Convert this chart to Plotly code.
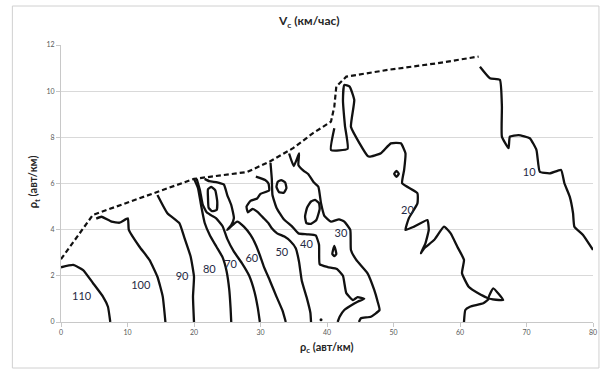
import plotly.graph_objects as go

# ---------------- data ----------------
x_ticks = [0, 10, 20, 30, 40, 50, 60, 70, 80]
y_ticks = [0, 2, 4, 6, 8, 10, 12]

# dashed boundary of the observed region
bound_x = [0, 4.8, 20.0, 28.0, 31.4, 34.9, 37.9, 40.6, 41.1, 41.4, 42.9, 49.1, 56.6, 62.8]
bound_y = [2.72, 4.64, 6.2, 6.5, 6.95, 7.53, 8.18, 8.68, 9.33, 10.2, 10.63, 10.92, 11.21, 11.5]

# contour lines (V_c levels)
c110_x = [0, 1.84, 3.33, 4.82, 6.31, 7.06, 7.41]
c110_y = [2.37, 2.47, 2.25, 1.68, 1.10, 0.66, 0]

c100_x = [5.3, 6.1, 7.6, 8.8, 10.05, 10.2, 11.8, 13.3, 14.5, 15.3, 15.7]
c100_y = [4.48, 4.56, 4.35, 4.3, 4.49, 3.99, 3.26, 2.69, 1.96, 1.10, 0]

c90_x = [14.5, 16.0, 17.8, 18.5, 19.5, 20.0, 19.85, 20.0]
c90_y = [5.5, 4.71, 4.28, 3.70, 2.83, 1.96, 1.10, 0]

c80_x = [20.0, 20.6, 21.1, 21.6, 22.4, 23.4, 24.3, 24.9, 25.3, 25.5, 25.6]
c80_y = [6.2, 5.8, 5.0, 4.3, 3.75, 3.25, 2.8, 2.2, 1.4, 0.6, 0]

c70_x = [20.4, 20.9, 21.3, 21.9, 22.6, 23.3, 24.3, 25.0, 26.0, 27.2, 28.3, 29.1, 29.6, 29.9]
c70_y = [6.2, 5.7, 5.1, 4.75, 4.62, 4.5, 4.15, 3.6, 3.05, 2.55, 2.0, 1.3, 0.6, 0]

c70_loop_x = [22.1, 22.6, 23.2, 23.5, 23.4, 22.7, 22.2, 22.1, 22.1]
c70_loop_y = [5.75, 5.85, 5.7, 5.2, 4.85, 4.8, 4.95, 5.4, 5.75]

c60_x = [21.6, 22.3, 23.5, 24.5, 25.0, 25.6, 26.0, 25.6, 25.0, 25.5, 26.5, 27.5, 28.5, 29.3,
         29.9, 30.5, 31.4, 32.4, 33.3, 33.8]
c60_y = [6.2, 6.1, 6.05, 5.95, 5.5, 5.07, 4.5, 4.2, 3.99, 4.12, 4.35, 4.13, 3.77, 3.34,
         2.9, 2.4, 1.8, 1.1, 0.5, 0]

c50_x = [29.3, 30.7, 31.2, 31.3, 30.0, 29.5, 28.5, 27.9, 28.1, 28.8, 29.5, 30.5, 31.2, 31.7,
         32.5, 33.6, 34.5, 35.3, 35.8, 36.2, 37.0, 37.5, 37.6]
c50_y = [6.3, 6.15, 6.0, 5.7, 5.55, 5.35, 5.25, 5.0, 4.75, 4.9, 4.78, 4.49, 4.28, 4.06,
         3.84, 3.7, 3.5, 3.2, 2.6, 1.8, 1.0, 0.4, 0]

c40_x = [31.5, 31.7, 31.8, 32.4, 33.5, 34.7, 35.7, 37.0, 38.3, 38.8, 38.9, 40.1, 41.5, 42.4,
         42.9, 43.9, 44.6, 45.6, 44.6, 44.1, 42.6, 41.9, 41.6]
c40_y = [6.9, 6.2, 5.5, 4.95, 4.45, 4.15, 3.84, 3.8, 3.75, 3.35, 2.5, 2.38, 2.3, 2.0,
         1.25, 0.95, 1.08, 1.0, 0.88, 0.8, 0.52, 0.23, 0]

c40_loop_x = [32.4, 32.6, 33.1, 33.7, 33.9, 33.5, 32.8, 32.4]
c40_loop_y = [5.85, 6.08, 6.15, 6.05, 5.8, 5.6, 5.62, 5.85]

c30_x = [34.3, 35.0, 35.8, 35.7, 36.5, 37.2, 38.0, 38.7, 39.1, 39.6, 40.6, 41.8, 42.6, 43.5,
         43.6, 44.4, 46.1, 47.1, 47.6, 47.9, 46.6, 45.1, 44.8]
c30_y = [7.3, 6.75, 7.3, 6.8, 6.55, 6.4, 6.05, 5.86, 5.14, 4.6, 4.35, 4.45, 4.35, 3.99,
         3.12, 2.69, 2.11, 1.39, 0.9, 0.52, 0.23, 0.16, 0]

c30_oval_x = [38.2, 38.8, 38.9, 38.4, 37.6, 36.9, 36.7, 37.0, 37.6, 38.2]
c30_oval_y = [5.29, 5.15, 4.9, 4.42, 4.25, 4.28, 4.57, 4.95, 5.22, 5.29]

c30_drop_x = [41.1, 41.4, 41.1, 40.8, 41.1]
c30_drop_y = [3.3, 2.95, 2.85, 2.95, 3.3]

c20_x = [41.1, 40.6, 43.1, 42.7, 42.4, 42.6, 43.4, 44.1, 43.6, 44.9, 46.1, 46.4, 48.1, 49.6,
         51.1, 51.8, 51.6, 51.3, 53.6, 53.6, 52.3, 51.8, 53.1, 55.1, 55.3, 54.8, 54.1, 54.6,
         56.1, 57.6, 58.6, 59.6, 60.6, 60.3, 61.3, 63.0, 64.3, 63.5, 61.5, 60.8, 60.6]
c20_y = [8.39, 7.45, 7.5, 8.5, 9.62, 10.27, 10.2, 9.62, 8.46, 7.74, 7.2, 7.16, 7.31, 7.74,
         7.74, 7.31, 6.59, 6.01, 5.58, 5.14, 4.49, 3.99, 4.13, 4.42, 3.99, 3.41, 2.98, 3.19,
         3.55, 4.13, 3.84, 3.26, 2.69, 2.11, 1.53, 1.2, 1.0, 0.81, 0.66, 0.52, 0]

c20_ring_x = [50.1, 50.45, 50.8, 50.45, 50.1]
c20_ring_y = [6.42, 6.55, 6.42, 6.29, 6.42]

c20_tri_x = [65.0, 66.5, 64.3, 65.0]
c20_tri_y = [1.46, 0.95, 1.03, 1.46]

c10_x = [63.0, 64.5, 66.0, 66.3, 66.3, 67.3, 67.5, 68.8, 70.5, 71.5, 72.0, 73.5, 75.2, 75.7,
         76.5, 77.0, 77.2, 78.5, 80.0]
c10_y = [11.06, 10.56, 10.49, 9.33, 8.03, 7.53, 8.03, 8.1, 7.96, 7.45, 6.51, 6.44, 6.59, 6.01,
         5.43, 4.71, 4.13, 3.77, 3.12]

dot_x = [39.1]
dot_y = [0.1]

# contour labels
label_text = ["110", "100", "90", "80", "70", "60", "50", "40", "30", "20", "10"]
label_x = [3.1, 12.0, 18.2, 22.3, 25.5, 28.7, 33.2, 36.9, 42.1, 52.1, 70.4]
label_y = [1.07, 1.56, 1.96, 2.25, 2.47, 2.72, 2.98, 3.31, 3.81, 4.81, 6.44]

title_text = "<b>V<sub>c</sub> (км/час)</b>"
xtitle_text = "<b>ρ<sub>c</sub> (авт/км)</b>"
ytitle_text = "<b>ρ<sub>t</sub> (авт/км)</b>"

# ---------------- figure ----------------
fig = go.Figure()

lines = [
    (c110_x, c110_y), (c100_x, c100_y), (c90_x, c90_y), (c80_x, c80_y),
    (c70_x, c70_y), (c70_loop_x, c70_loop_y), (c60_x, c60_y), (c50_x, c50_y),
    (c40_x, c40_y), (c40_loop_x, c40_loop_y), (c30_x, c30_y), (c30_oval_x, c30_oval_y),
    (c30_drop_x, c30_drop_y), (c20_x, c20_y), (c20_ring_x, c20_ring_y),
    (c20_tri_x, c20_tri_y), (c10_x, c10_y),
]
for xs, ys in lines:
    fig.add_trace(go.Scatter(x=xs, y=ys, mode="lines",
                             line=dict(color="#111111", width=2.3, shape="spline", smoothing=0.4),
                             hoverinfo="skip", showlegend=False))

fig.add_trace(go.Scatter(x=bound_x, y=bound_y, mode="lines",
                         line=dict(color="#111111", width=2.2, dash="5px,3px"),
                         hoverinfo="skip", showlegend=False))

fig.add_trace(go.Scatter(x=dot_x, y=dot_y, mode="markers",
                         marker=dict(color="#111111", size=3),
                         hoverinfo="skip", showlegend=False))

fig.add_trace(go.Scatter(x=label_x, y=label_y, mode="text", text=label_text,
                         textfont=dict(family="Lato, Open Sans, sans-serif", size=11, color="#1f2a44"),
                         hoverinfo="skip", showlegend=False))

L, R, T, B = 61, 11, 45, 51
W, H = 608, 373
pw, ph = W - L - R, H - T - B

def px_to_paper_x(px):
    return (px - L) / pw

def py_to_paper_y(py):
    return (H - B - py) / ph

fig.update_layout(
    width=W, height=H,
    margin=dict(l=L, r=R, t=T, b=B, pad=0),
    paper_bgcolor="white", plot_bgcolor="white",
    font=dict(family="Lato, Open Sans, sans-serif", color="#404040"),
    hovermode=False,
    xaxis=dict(range=[0, 80], tickvals=x_ticks, showgrid=False, zeroline=False,
               showline=True, linecolor="#c8c8c8", linewidth=1,
               ticks="outside", ticklen=4, tickcolor="#c8c8c8",
               tickfont=dict(size=7, color="#595959"), fixedrange=True),
    yaxis=dict(range=[0, 12], tickvals=y_ticks, showgrid=True, gridcolor="#d9d9d9",
               gridwidth=1, zeroline=False,
               showline=True, linecolor="#c8c8c8", linewidth=1,
               ticks="outside", ticklen=4, tickcolor="#c8c8c8",
               tickfont=dict(size=7, color="#595959"), fixedrange=True),
    shapes=[dict(type="rect", xref="paper", yref="paper",
                 x0=px_to_paper_x(12), x1=px_to_paper_x(603),
                 y0=py_to_paper_y(368), y1=py_to_paper_y(6),
                 line=dict(color="#d0d0d0", width=1), fillcolor="rgba(0,0,0,0)",
                 layer="below")],
    annotations=[
        dict(text=title_text, xref="paper", yref="paper", xanchor="center", yanchor="middle",
             x=px_to_paper_x(311), y=py_to_paper_y(22), showarrow=False,
             font=dict(size=12, color="#262626", family="Lato, Open Sans, sans-serif")),
        dict(text=xtitle_text, xref="paper", yref="paper", xanchor="center", yanchor="middle",
             x=px_to_paper_x(329), y=py_to_paper_y(347), showarrow=False,
             font=dict(size=11, color="#262626", family="Lato, Open Sans, sans-serif")),
        dict(text=ytitle_text, xref="paper", yref="paper", textangle=-90,
             xanchor="center", yanchor="middle",
             x=px_to_paper_x(33), y=py_to_paper_y(182), showarrow=False,
             font=dict(size=11, color="#262626", family="Lato, Open Sans, sans-serif")),
    ],
)

fig.write_html("out.html", config={"displayModeBar": False},
               post_script="document.body.style.margin='0px';document.body.style.padding='0px';")
